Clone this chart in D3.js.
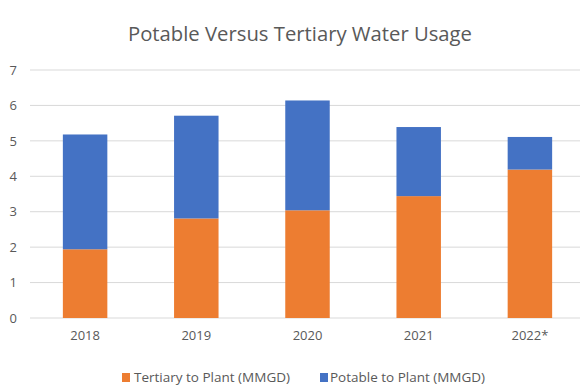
<!DOCTYPE html>
<html><head><meta charset="utf-8">
<script src="https://cdn.jsdelivr.net/npm/d3@7"></script>
<style>body{margin:0;background:#fff}svg{display:block}text{font-family:"Open Sans","Liberation Sans",sans-serif}</style>
</head><body><svg id="c" width="588" height="392"></svg>
<script>
const years = ["2018","2019","2020","2021","2022*"];
const tertiary = [1.94, 2.81, 3.04, 3.44, 4.19];
const potable = [3.24, 2.90, 3.10, 1.95, 0.92];
const seriesNames = ["Tertiary to Plant (MMGD)", "Potable to Plant (MMGD)"];
const colors = ["#ED7D31", "#4472C4"];
const yTicks = [0,1,2,3,4,5,6,7];

const svg = d3.select("#c");
const x = d3.scaleBand().domain(years).range([29.5, 585.5]).paddingInner(0.6).paddingOuter(0.3);
const y = d3.scaleLinear().domain([0,7]).range([318,70]);

function fit(sel, w){ sel.attr("textLength", w).attr("lengthAdjust","spacingAndGlyphs"); }

// title
svg.append("text").attr("x",300).attr("y",41).attr("text-anchor","middle")
  .attr("font-size",20).attr("fill","#595959").text("Potable Versus Tertiary Water Usage").call(fit,344);

// gridlines
svg.append("g").selectAll("line").data(yTicks).join("line")
  .attr("x1",30).attr("x2",580).attr("y1",d=>y(d)).attr("y2",d=>y(d))
  .attr("stroke","#d9d9d9").attr("stroke-width",1);

// y axis labels
const yAxis = d3.axisLeft(y).tickValues(yTicks).tickFormat(d3.format("d")).tickSize(0).tickPadding(0);
const ya = svg.append("g").attr("transform","translate(17,0)").call(yAxis);
ya.select(".domain").remove();
ya.selectAll("text").attr("font-size",13).attr("fill","#595959").attr("font-family","Open Sans");

// stacked data
const rows = years.map((yr,i)=>({year:yr, t:tertiary[i], p:potable[i]}));
const stack = d3.stack().keys(["t","p"])(rows);
svg.append("g").selectAll("g").data(stack).join("g").attr("fill",(d,i)=>colors[i])
  .selectAll("rect").data(d=>d).join("rect")
  .attr("x",d=>x(d.data.year)).attr("width",x.bandwidth())
  .attr("y",d=>y(d[1])).attr("height",d=>y(d[0])-y(d[1]));

// x axis labels
const xAxis = d3.axisBottom(x).tickSize(0).tickPadding(0);
const xa = svg.append("g").attr("transform","translate(0,331)").call(xAxis);
xa.select(".domain").remove();
xa.selectAll("text").attr("font-size",13).attr("fill","#595959").attr("font-family","Open Sans");

// legend
const leg = [{x:122, tx:134, w:156},{x:320, tx:330, w:155}];
leg.forEach((l,i)=>{
  svg.append("rect").attr("x",l.x).attr("y",373).attr("width",8).attr("height",9).attr("fill",colors[i]);
  svg.append("text").attr("x",l.tx).attr("y",382).attr("font-size",13).attr("fill","#595959")
    .text(seriesNames[i]).call(fit,l.w);
});
</script></body></html>
